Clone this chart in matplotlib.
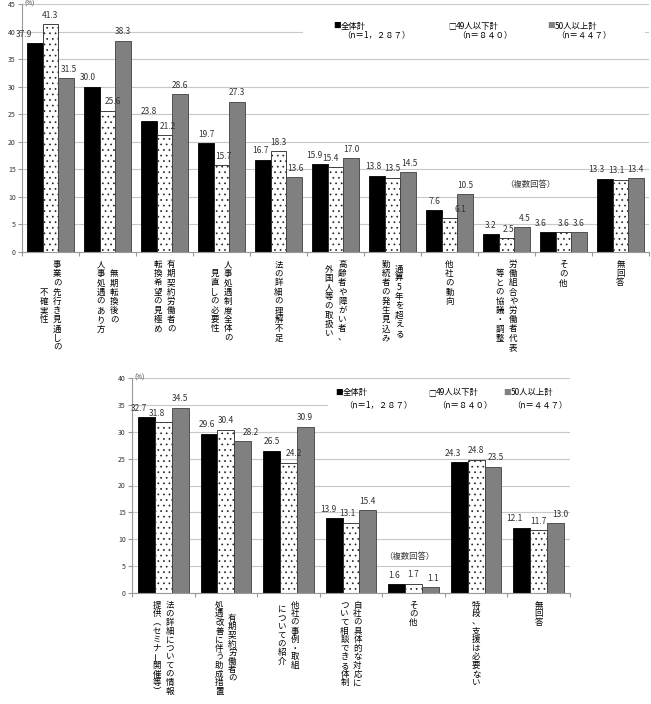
import numpy as np
import matplotlib
matplotlib.use('Agg')
import matplotlib.pyplot as plt
from matplotlib.patches import Rectangle

plt.rcParams['font.family'] = ['Noto Sans CJK JP', 'DejaVu Sans']
plt.rcParams['hatch.linewidth'] = 0.5

# ---- data ----
series_names = ['全体計', '49人以下計', '50人以上計']
series_n = ['（n＝1，２８７）', '（n＝８４０）', '（n＝４４７）']

top_labels = [
    ['事業の先行き見通しの', '不確実性'],
    ['無期転換後の', '人事処遇のあり方'],
    ['有期契約労働者の', '転換希望の見極め'],
    ['人事処遇制度全体の', '見直しの必要性'],
    ['法の詳細の理解不足'],
    ['高齢者や障がい者、', '外国人等の取扱い'],
    ['通算5年を超える', '勤続者の発生見込み'],
    ['他社の動向'],
    ['労働組合や労働者代表', '等との協議・調整'],
    ['その他'],
    ['無回答'],
]
top_total = [37.9, 30.0, 23.8, 19.7, 16.7, 15.9, 13.8, 7.6, 3.2, 3.6, 13.3]
top_small = [41.3, 25.6, 21.2, 15.7, 18.3, 15.4, 13.5, 6.1, 2.5, 3.6, 13.1]
top_large = [31.5, 38.3, 28.6, 27.3, 13.6, 17.0, 14.5, 10.5, 4.5, 3.6, 13.4]

bot_labels = [
    ['法の詳細についての情報', '提供（セミナー開催等）'],
    ['有期契約労働者の', '処遇改善に伴う助成措置'],
    ['他社の事例・取組', 'についての紹介'],
    ['自社の具体的な対応に', 'ついて相談できる体制'],
    ['その他'],
    ['特段、支援は必要ない'],
    ['無回答'],
]
bot_total = [32.7, 29.6, 26.5, 13.9, 1.6, 24.3, 12.1]
bot_small = [31.8, 30.4, 24.2, 13.1, 1.7, 24.8, 11.7]
bot_large = [34.5, 28.2, 30.9, 15.4, 1.1, 23.5, 13.0]

# small sideways shifts of value labels (px), as excel placed them
top_nudge = [[-11, 0, 3], [-4, 5, 0], [0, 3, 0], [0, 2, 0], [-3, 0, 2], [-6, -5, 0],
             [-4, 0, 2], [0, 11, 0], [0, 2, 3], [-7, 0, 0], [-9, -4, 0]]
bot_nudge = [[-7, -6, 0], [-2, 0, 8], [0, 5, 0], [-6, -4, 0], [-3, 0, 3], [-6, 0, 3], [-7, 0, 5]]

PT = 0.72  # px -> pt at dpi 100
VERT = {'（': '︵', '）': '︶'}

fig = plt.figure(figsize=(6.51, 7.04), dpi=100)


def px_axes(l, t, r, b):
    return fig.add_axes([l / 651, 1 - b / 704, (r - l) / 651, (b - t) / 704])


def vlabel(ax, x, lines, top, step, colsp, fs=6.1):
    ncol = len(lines)
    maxlen = max(len(l) for l in lines)
    cy = top + maxlen * step / 2
    for k, line in enumerate(lines):
        dx = ((ncol - 1) / 2 - k) * colsp
        y0 = cy - len(line) * step / 2 + step / 2
        for j, ch in enumerate(line):
            rot = 90 if ch == 'ー' else 0
            ax.annotate(VERT.get(ch, ch), xy=(x, 0), xycoords=('data', 'axes fraction'),
                        xytext=(dx * PT, -(y0 + j * step) * PT), textcoords='offset points',
                        ha='center', va='center', fontsize=fs, rotation=rot,
                        annotation_clip=False)


def panel(ax, labels, vals, ymax, nudge, step, colsp):
    n = len(labels)
    x = np.arange(n)
    w = 0.27
    styles = [dict(color='black', edgecolor='black'),
              dict(color='white', edgecolor='#222222', hatch='...'),
              dict(color='#808080', edgecolor='#404040')]
    for s, (v, st) in enumerate(zip(vals, styles)):
        bars = ax.bar(x + (s - 1) * w, v, w, linewidth=0.6, zorder=2, **st)
        for i, (b, val) in enumerate(zip(bars, v)):
            ax.annotate(f'{val:.1f}', xy=(b.get_x() + b.get_width() / 2, val),
                        xytext=(nudge[i][s] * PT, 6.5), textcoords='offset points',
                        ha='center', va='center', fontsize=6, color='#333333')
    ax.set_xlim(-0.5, n - 0.5)
    ax.set_ylim(0, ymax)
    ax.set_yticks(np.arange(0, ymax + 1, 5))
    ax.set_xticks(np.arange(n + 1) - 0.5)
    ax.set_xticklabels([])
    ax.tick_params(axis='x', length=3, color='#999999')
    ax.tick_params(axis='y', length=3, labelsize=5, color='#999999', labelcolor='#333333', pad=1.5)
    ax.grid(axis='y', color='#c8c8c8', lw=0.8)
    ax.set_axisbelow(True)
    for sp in ['top', 'right']:
        ax.spines[sp].set_visible(False)
    for sp in ['left', 'bottom']:
        ax.spines[sp].set_color('#999999')
        ax.spines[sp].set_linewidth(0.8)
    ax.annotate('(%)', xy=(0, 1), xycoords='axes fraction', xytext=(1.5, 0),
                textcoords='offset points', ha='left', va='center', fontsize=4.5, color='#333333')
    for i, lines in enumerate(labels):
        vlabel(ax, i, lines, 8, step, colsp)


def legend(ax, box, xs, y1, y2):
    # white box hiding the gridline behind the legend (pixel coords)
    l, t, r, b = box
    fig.patches.append(Rectangle((l / 651, 1 - b / 704), (r - l) / 651, (b - t) / 704,
                                 transform=fig.transFigure, facecolor='white',
                                 edgecolor='none', zorder=1))
    marks = [('■', 'black'), ('□', 'black'), ('■', '#808080')]
    for (m, c), name, nn, x in zip(marks, series_names, series_n, xs):
        fig.text(x / 651, 1 - y1 / 704, m, color=c, fontsize=5.5, va='center', ha='left', zorder=3)
        fig.text((x + 8) / 651, 1 - y1 / 704, name, fontsize=6, va='center', ha='left', zorder=3)
        fig.text((x + 9) / 651, 1 - y2 / 704, nn, fontsize=6, va='center', ha='left', zorder=3)


ax1 = px_axes(22, 4, 649, 252)
panel(ax1, top_labels, [top_total, top_small, top_large], 45, top_nudge, 9.2, 13.5)
ax1.text(8.41, 12.2, '（複数回答）', fontsize=6, ha='center', va='center', color='#333333')
legend(ax1, (303, 18, 645, 44), [333, 448, 547], 26, 35)

ax2 = px_axes(132, 378, 570, 593)
panel(ax2, bot_labels, [bot_total, bot_small, bot_large], 40, bot_nudge, 8.6, 13)
ax2.text(3.94, 6.7, '（複数回答）', fontsize=6, ha='center', va='center', color='#333333')
legend(ax2, (328, 386, 570, 413), [335, 428, 503], 393, 405)

fig.savefig('out.png', dpi=100)
